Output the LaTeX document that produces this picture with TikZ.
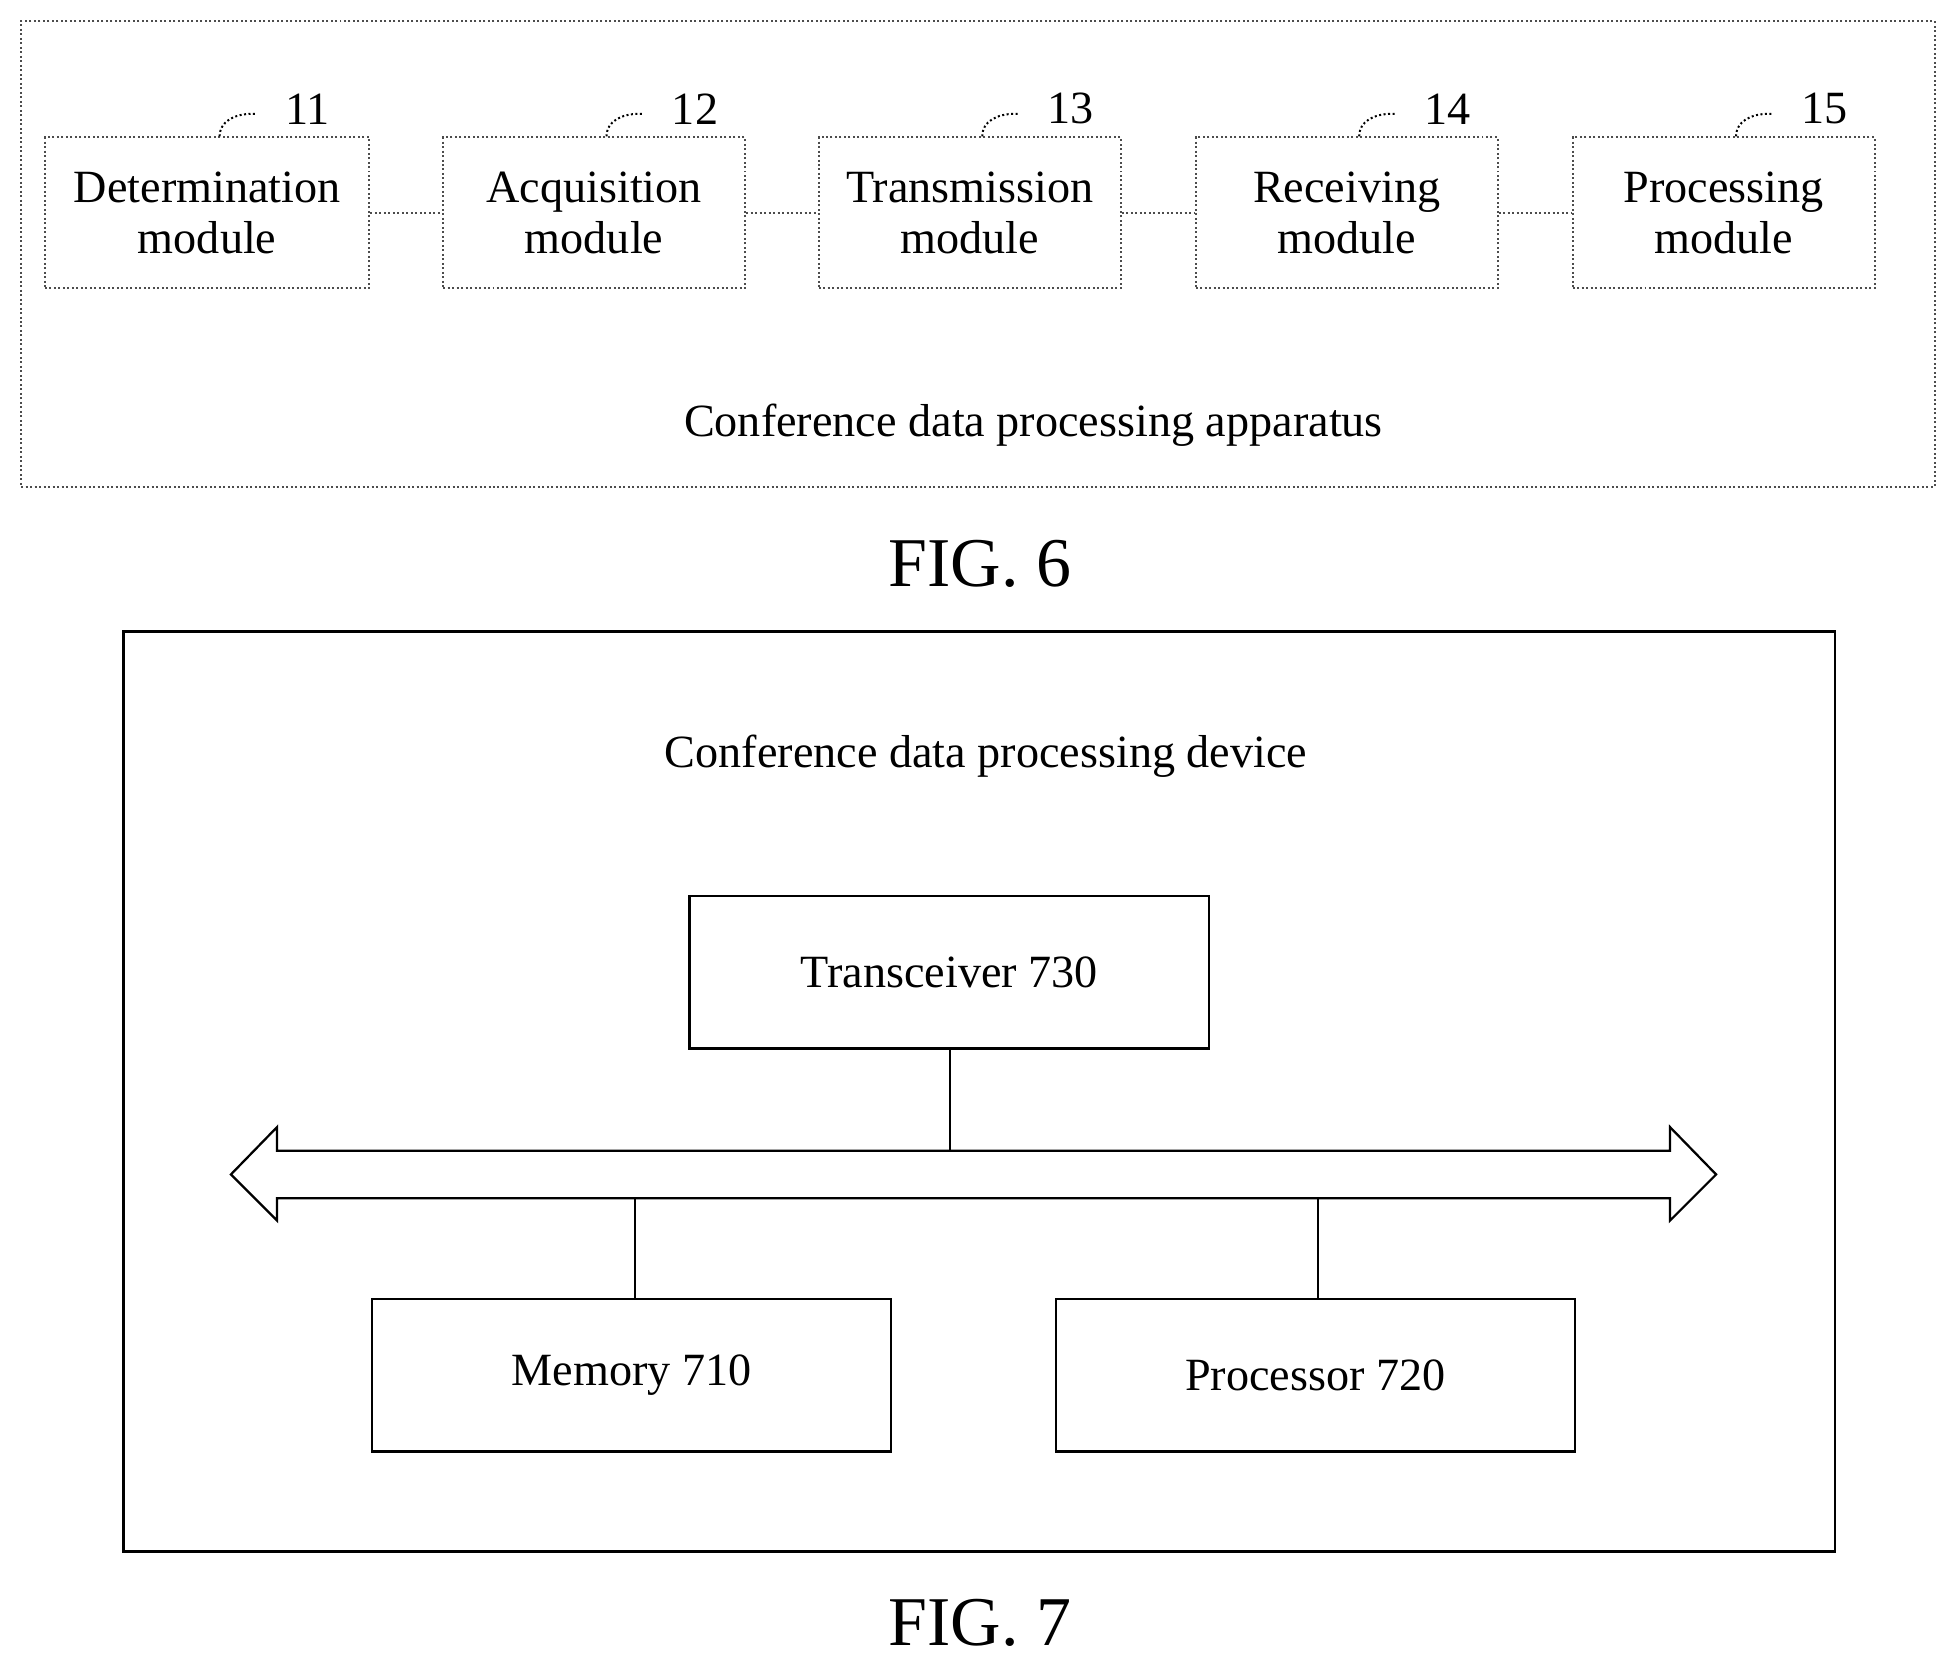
\documentclass[tikz,border=0pt]{standalone}
\usepackage{fontspec}
\setmainfont{Liberation Serif}
\usetikzlibrary{positioning}
\begin{document}
\begin{tikzpicture}
[x=0.5pt, y=-0.5pt, every node/.style={inner sep=0pt, font=\fontsize{18.5}{20.5}\selectfont},
 module/.style={rectangle, minimum width=121pt, minimum height=60.5pt, align=center, draw=black!70, densely dotted, line width=0.8pt},
 unit/.style={rectangle, minimum width=208pt, minimum height=61pt, draw=black, line width=0.9pt},
 leader/.style={densely dotted, line width=0.8pt},
 caption/.style={font=\fontsize{28}{30}\selectfont}]
\useasboundingbox (0,0) rectangle (1568,1340);
\node (app) [rectangle, minimum width=766.5pt, minimum height=186.5pt, draw=black!70, densely dotted, line width=0.8pt] at (783.5,203.5) {};
\node (m11) [module, minimum width=130pt] at (166,170.5) {Determination\\module};
\node (m12) [module] at (476,170.5) {Acquisition\\module};
\node (m13) [module] at (777,170.5) {Transmission\\module};
\node (m14) [module] at (1079,170.5) {Receiving\\module};
\node (m15) [module] at (1381,170.5) {Processing\\module};
\draw [densely dotted, line width=0.8pt, black!70] (m11) -- (m12) -- (m13) -- (m14) -- (m15);
\foreach \m/\n in {m11/11, m12/12, m13/13, m14/14, m15/15} {
  \coordinate (\m-t) at ([xshift=5pt]\m.north);
  \draw [leader] (\m-t) .. controls +(0,-12) and +(-14,0) .. ++(26,-18) coordinate (\m-e) -- ++(4,0);
  \node (lab\n) [anchor=west] at ([xshift=13pt, yshift=2pt]\m-e) {\n};
}
\node (apptext) at (828,341) {Conference data processing apparatus};
\node (fig6) [caption] at (785,452) {FIG. 6};
\node (dev) [rectangle, minimum width=685.5pt, minimum height=368.5pt, draw=black, line width=0.9pt] at (784.5,874.5) {};
\node (devtext) at (790,606) {Conference data processing device};
\node (trans) [unit] at (760.5,779) {Transceiver 730};
\node (mem) [unit] at (506,1102) {Memory 710};
\node (proc) [unit] at (1054,1102) {Processor 720};
% bus
\draw [line width=0.9pt] (185,941) -- (222,903) -- (222,922) -- (1338,922) -- (1338,903) -- (1375,941)
  -- (1338,978) -- (1338,960) -- (222,960) -- (222,978) -- cycle;
\coordinate (bustop) at (761,922);
\coordinate (busmem) at (509,960);
\coordinate (busproc) at (1056,960);
\draw [line width=0.9pt] (trans.south -| bustop) -- (bustop);
\draw [line width=0.9pt] (busmem) -- (busmem |- mem.north);
\draw [line width=0.9pt] (busproc) -- (busproc |- proc.north);
\node (fig7) [caption] at (785,1300) {FIG. 7};
\end{tikzpicture}
\end{document}
